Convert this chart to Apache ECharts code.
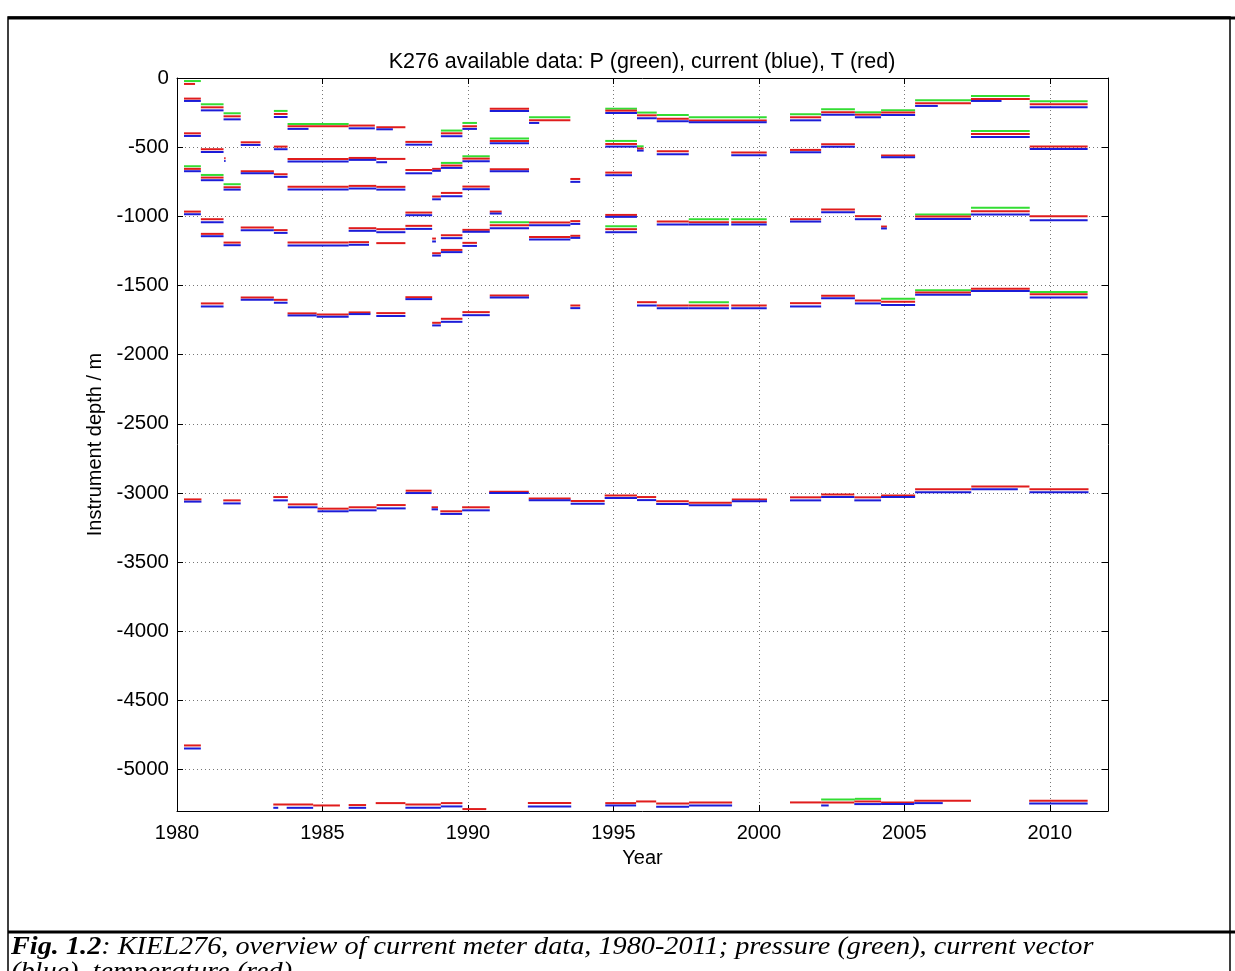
<!DOCTYPE html>
<html><head><meta charset="utf-8">
<script src="https://cdn.jsdelivr.net/npm/echarts@6/dist/echarts.min.js"></script>
<style>html,body{margin:0;padding:0;background:#fff;}#c{width:1235px;height:971px;}</style>
</head><body><div id="c"></div>
<script>
// Axis ticks
const xTicks = [1980, 1985, 1990, 1995, 2000, 2005, 2010];
const yTicks = [0, -500, -1000, -1500, -2000, -2500, -3000, -3500, -4000, -4500, -5000];

// Segments: [startYear, endYear, depth (m)]
const greenSegs = [
  [1980.24,1980.82,-22],[1980.24,1980.82,-638],
  [1980.82,1981.60,-190],[1980.82,1981.60,-701],
  [1981.60,1982.19,-255],[1981.60,1982.19,-768],
  [1983.33,1983.80,-238],
  [1983.80,1985.90,-332],
  [1989.07,1989.81,-380],[1989.07,1989.81,-614],
  [1989.81,1990.31,-325],[1989.81,1990.75,-566],
  [1990.75,1992.10,-438],[1990.75,1992.10,-1043],
  [1992.10,1993.52,-284],
  [1994.72,1995.81,-222],[1994.72,1995.81,-455],[1994.72,1995.81,-1072],
  [1995.81,1996.49,-250],[1995.81,1996.04,-494],
  [1996.49,1997.59,-267],
  [1997.59,2000.27,-284],[1997.59,1998.97,-1021],[1999.05,2000.27,-1021],[1997.59,1998.97,-1621],
  [2001.07,2002.14,-262],
  [2002.14,2003.30,-226],[2002.14,2003.30,-5216],
  [2003.30,2004.20,-248],[2003.30,2004.20,-5212],
  [2004.20,2005.37,-234],[2004.20,2005.37,-1597],
  [2005.37,2007.29,-161],[2005.37,2007.29,-987],[2005.37,2007.29,-1534],
  [2007.29,2009.31,-130],[2007.29,2009.31,-383],[2007.29,2009.31,-939],
  [2009.31,2011.30,-169],[2009.31,2011.30,-1548]
];
const redSegs = [
  [1980.24,1980.62,-43],[1980.24,1980.82,-149],[1980.24,1980.82,-400],[1980.24,1980.82,-657],
  [1980.24,1980.82,-966],[1980.24,1980.84,-3047],[1980.24,1980.82,-4826],
  [1980.82,1981.60,-212],[1980.82,1981.60,-515],[1980.82,1981.60,-720],[1980.82,1981.60,-1021],
  [1980.82,1981.60,-1127],[1980.82,1981.60,-1630],
  [1981.60,1982.19,-277],[1981.60,1982.19,-790],[1981.60,1982.19,-1190],[1981.62,1981.67,-580],
  [1981.59,1982.19,-3054],
  [1982.19,1982.87,-465],[1982.19,1983.33,-674],[1982.19,1983.33,-1081],[1982.19,1983.33,-1587],
  [1983.33,1983.80,-260],[1983.33,1983.80,-496],[1983.33,1983.80,-696],[1983.33,1983.80,-1100],
  [1983.33,1983.80,-1604],[1983.31,1983.81,-3030],
  [1983.80,1985.90,-349],[1983.80,1985.90,-585],[1983.80,1985.90,-787],[1983.80,1985.90,-1190],
  [1983.80,1984.80,-1702],[1984.80,1985.90,-1710],[1983.81,1984.83,-3083],[1984.83,1985.90,-3114],
  [1983.31,1984.68,-5253],[1984.68,1985.60,-5260],
  [1985.90,1986.80,-344],[1985.90,1986.85,-578],[1985.90,1986.85,-780],[1985.90,1986.85,-1086],
  [1985.90,1986.60,-1187],[1985.90,1986.65,-1695],[1985.90,1986.86,-3104],[1985.90,1986.50,-5257],
  [1986.85,1987.85,-356],[1986.85,1987.85,-585],[1986.85,1987.85,-787],[1986.85,1987.85,-1093],
  [1986.85,1987.85,-1194],[1986.85,1987.85,-1700],[1986.86,1987.86,-3088],[1986.83,1987.85,-5243],
  [1987.85,1988.77,-462],[1987.85,1988.77,-665],[1987.85,1988.77,-973],[1987.85,1988.77,-1069],
  [1987.85,1988.77,-1585],[1987.86,1988.75,-2984],[1987.85,1989.07,-5253],
  [1988.77,1989.07,-657],[1988.77,1989.07,-857],[1988.77,1988.90,-1161],[1988.77,1989.07,-1267],
  [1988.77,1989.07,-1770],[1988.75,1988.97,-3104],
  [1989.07,1989.81,-400],[1989.07,1989.81,-633],[1989.07,1989.81,-831],[1989.07,1989.81,-1137],
  [1989.07,1989.81,-1243],[1989.07,1989.81,-1741],[1989.05,1989.80,-3133],[1989.07,1989.81,-5243],
  [1989.81,1990.31,-349],[1989.81,1990.75,-583],[1989.81,1990.75,-785],[1989.81,1990.75,-1098],
  [1989.81,1990.31,-1192],[1989.81,1990.75,-1693],[1989.80,1990.75,-3104],[1989.81,1990.63,-5286],
  [1990.75,1992.10,-222],[1990.75,1992.10,-455],[1990.75,1992.10,-660],[1990.75,1991.16,-966],
  [1990.75,1992.10,-1064],[1990.75,1992.10,-1572],[1990.73,1992.09,-2991],
  [1992.10,1993.52,-306],[1992.10,1993.52,-1045],[1992.10,1993.52,-1149],[1992.09,1993.53,-3040],
  [1992.06,1993.55,-5243],
  [1993.52,1993.86,-730],[1993.52,1993.86,-1035],[1993.52,1993.86,-1141],[1993.52,1993.86,-1645],
  [1993.53,1994.70,-3059],
  [1994.72,1995.81,-236],[1994.72,1995.81,-477],[1994.72,1995.64,-684],[1994.72,1995.81,-990],
  [1994.72,1995.81,-1093],[1994.70,1995.81,-3018],[1994.72,1995.78,-5243],
  [1995.81,1996.49,-270],[1995.81,1996.04,-510],[1995.81,1996.49,-1621],[1995.81,1996.47,-3030],
  [1995.78,1996.47,-5231],
  [1996.49,1997.59,-294],[1996.49,1997.59,-530],[1996.49,1997.59,-1038],[1996.49,1997.59,-1645],
  [1996.47,1997.59,-3061],[1996.47,1997.60,-5245],
  [1997.59,2000.27,-308],[1999.05,2000.27,-539],[1997.59,1998.97,-1043],[1999.05,2000.27,-1043],
  [1997.59,1998.97,-1645],[1999.05,2000.27,-1645],[1997.59,1999.07,-3071],[1999.07,2000.28,-3047],
  [1997.60,1999.08,-5238],
  [2001.07,2002.14,-284],[2001.07,2002.14,-520],[2001.07,2002.14,-1021],[2001.07,2002.14,-1628],
  [2001.07,2002.14,-3032],[2001.07,2002.14,-5238],
  [2002.14,2003.30,-248],[2002.14,2003.30,-479],[2002.14,2003.30,-951],[2002.14,2003.30,-1575],
  [2002.14,2003.28,-3011],[2002.14,2003.28,-5238],
  [2003.30,2004.20,-265],[2003.30,2004.20,-999],[2003.30,2004.20,-1609],[2004.20,2004.40,-1074],
  [2003.28,2004.20,-3032],[2003.28,2004.20,-5231],
  [2004.20,2005.37,-250],[2004.20,2005.37,-561],[2004.20,2005.37,-1618],[2004.20,2005.37,-3018],
  [2004.20,2005.34,-5238],
  [2005.37,2007.29,-183],[2005.37,2007.29,-1002],[2005.37,2007.29,-1551],[2005.37,2007.30,-2974],
  [2005.34,2007.29,-5226],
  [2007.29,2009.31,-152],[2007.29,2009.31,-405],[2007.29,2009.31,-963],[2007.29,2009.31,-1524],
  [2007.30,2009.30,-2953],
  [2009.31,2011.30,-190],[2009.31,2011.30,-496],[2009.31,2011.30,-999],[2009.31,2011.30,-1563],
  [2009.30,2011.33,-2974],[2009.29,2011.30,-5226]
];
const blueSegs = [
  [1980.24,1980.82,-166],[1980.24,1980.82,-419],[1980.24,1980.82,-674],[1980.24,1980.82,-985],
  [1980.24,1980.84,-3063],[1980.24,1980.82,-4848],
  [1980.82,1981.60,-234],[1980.82,1981.60,-535],[1980.82,1981.60,-739],[1980.82,1981.60,-1043],
  [1980.82,1981.60,-1144],[1980.82,1981.60,-1652],
  [1981.60,1982.19,-299],[1981.60,1982.19,-807],[1981.60,1982.19,-1209],[1981.62,1981.67,-600],
  [1981.59,1982.19,-3076],
  [1982.19,1982.87,-484],[1982.19,1983.33,-689],[1982.19,1983.33,-1101],[1982.19,1983.33,-1604],
  [1983.33,1983.80,-282],[1983.33,1983.80,-515],[1983.33,1983.80,-715],[1983.33,1983.80,-1120],
  [1983.33,1983.80,-1625],[1983.31,1983.81,-3054],
  [1983.80,1984.52,-368],[1983.80,1985.90,-604],[1983.80,1985.90,-807],[1983.80,1985.90,-1211],
  [1983.80,1984.80,-1717],[1984.80,1985.90,-1727],[1983.81,1984.83,-3104],[1984.83,1985.90,-3133],
  [1983.31,1983.48,-5277],[1983.77,1984.68,-5277],
  [1985.90,1986.80,-364],[1985.90,1986.85,-592],[1985.90,1986.85,-799],[1985.90,1986.85,-1105],
  [1985.90,1986.60,-1206],[1985.90,1986.65,-1707],[1985.90,1986.86,-3126],[1985.90,1986.50,-5277],
  [1986.85,1987.42,-371],[1986.85,1987.22,-609],[1986.85,1987.85,-807],[1986.85,1987.85,-1115],
  [1986.85,1987.85,-1721],[1986.86,1987.86,-3112],
  [1987.85,1988.77,-482],[1987.85,1988.77,-689],[1987.85,1988.77,-992],[1987.85,1988.77,-1091],
  [1987.85,1988.77,-1599],[1987.86,1988.75,-3001],[1987.85,1989.07,-5277],
  [1988.77,1989.07,-671],[1988.77,1989.07,-877],[1988.77,1988.90,-1182],[1988.77,1989.07,-1284],
  [1988.77,1989.07,-1789],[1988.75,1988.97,-3119],
  [1989.07,1989.81,-421],[1989.07,1989.81,-650],[1989.07,1989.81,-855],[1989.07,1989.81,-1158],
  [1989.07,1989.81,-1259],[1989.07,1989.81,-1763],[1989.05,1989.80,-3152],[1989.07,1989.81,-5267],
  [1989.81,1990.31,-368],[1989.81,1990.75,-602],[1989.81,1990.75,-804],[1989.81,1990.75,-1112],
  [1989.81,1990.31,-1214],[1989.81,1990.75,-1715],[1989.80,1990.75,-3126],
  [1990.75,1992.10,-238],[1990.75,1992.10,-472],[1990.75,1992.10,-674],[1990.75,1991.16,-980],
  [1990.75,1992.10,-1086],[1990.75,1992.10,-1587],[1990.73,1992.09,-3001],
  [1992.10,1992.45,-325],[1992.10,1993.52,-1064],[1992.10,1993.52,-1168],[1992.09,1993.53,-3054],
  [1992.06,1993.55,-5267],
  [1993.52,1993.86,-751],[1993.52,1993.86,-1055],[1993.52,1993.86,-1156],[1993.52,1993.86,-1664],
  [1993.53,1994.70,-3078],
  [1994.72,1995.81,-253],[1994.72,1995.81,-496],[1994.72,1995.64,-703],[1994.72,1995.81,-1004],
  [1994.72,1995.81,-1115],[1994.70,1995.81,-3037],[1994.72,1995.78,-5260],
  [1995.81,1996.49,-291],[1995.81,1996.04,-525],[1995.81,1996.49,-1645],[1995.81,1996.47,-3052],
  [1996.49,1997.59,-313],[1996.49,1997.59,-551],[1996.49,1997.59,-1060],[1996.49,1997.59,-1664],
  [1996.47,1997.59,-3080],[1996.47,1997.60,-5269],
  [1997.59,2000.27,-320],[1999.05,2000.27,-559],[1997.59,1998.97,-1060],[1999.05,2000.27,-1060],
  [1997.59,1998.97,-1664],[1999.05,2000.27,-1664],[1997.59,1999.07,-3090],[1999.07,2000.28,-3061],
  [1997.60,1999.08,-5260],
  [2001.07,2002.14,-306],[2001.07,2002.14,-537],[2001.07,2002.14,-1038],[2001.07,2002.14,-1652],
  [2001.07,2002.14,-3054],
  [2002.14,2003.30,-265],[2002.14,2003.30,-498],[2002.14,2003.30,-970],[2002.14,2003.30,-1592],
  [2002.14,2003.28,-3030],[2002.14,2002.40,-5260],
  [2003.30,2004.20,-284],[2003.30,2004.20,-1021],[2003.30,2004.20,-1630],[2004.20,2004.40,-1088],
  [2003.28,2004.20,-3054],[2003.28,2004.20,-5250],
  [2004.20,2005.37,-267],[2004.20,2005.37,-573],[2004.20,2005.37,-1642],[2004.20,2005.37,-3030],
  [2004.20,2005.34,-5250],
  [2005.37,2006.15,-202],[2005.37,2007.29,-1019],[2005.37,2007.29,-1568],[2005.37,2007.30,-2996],
  [2005.34,2006.32,-5243],
  [2007.29,2008.34,-166],[2007.29,2009.31,-426],[2007.29,2009.31,-987],[2007.29,2009.31,-1541],
  [2007.30,2008.90,-2974],
  [2009.31,2011.30,-212],[2009.31,2011.30,-513],[2009.31,2011.30,-1028],[2009.31,2011.30,-1587],
  [2009.30,2011.33,-2996],[2009.29,2011.30,-5245]
];

const chart = echarts.init(document.getElementById('c'), null, {renderer: 'canvas'});
const FONT = 'Liberation Sans, Arial, sans-serif';
const SERIF = 'Liberation Serif, Times New Roman, serif';

function renderSeg(params, api) {
  const p0 = api.coord([api.value(0), api.value(2)]);
  const p1 = api.coord([api.value(1), api.value(2)]);
  return {
    type: 'line',
    shape: {x1: p0[0], y1: p0[1], x2: p1[0], y2: p1[1]},
    style: {stroke: api.visual('color'), lineWidth: 2}
  };
}
// depth axis drawn downward: plotted value = -depth
function toData(segs) { return segs.map(s => [s[0], s[1], -s[2]]); }
function segSeries(name, segs, color) {
  return {
    name: name, type: 'custom', renderItem: renderSeg, data: toData(segs),
    encode: {x: [0, 1], y: 2}, itemStyle: {color: color}, silent: true, animation: false,
    clip: true
  };
}

const yTickSet = new Set(yTicks.map(v => -v));
const xTickSet = new Set(xTicks);
const gridLine = {show: true, lineStyle: {color: '#777', width: 1, type: [1, 3]}};

const option = {
  animation: false,
  title: {
    text: 'K276 available data: P (green), current (blue), T (red)',
    left: 637, top: 46, textAlign: 'center',
    textStyle: {fontFamily: FONT, fontSize: 21.5, fontWeight: 'normal', color: '#000'}
  },
  grid: {left: 177, top: 78, width: 931, height: 733, show: false},
  xAxis: [{
    type: 'value', min: 1980, max: 2012, interval: 5, position: 'bottom',
    name: 'Year', nameLocation: 'middle', nameGap: 37,
    nameTextStyle: {fontFamily: FONT, fontSize: 20, color: '#000'},
    axisLine: {show: true, onZero: false, lineStyle: {color: '#000', width: 1}},
    axisTick: {show: true, inside: true, length: 6, lineStyle: {color: '#000'}},
    axisLabel: {fontFamily: FONT, fontSize: 20, color: '#000', margin: 12,
      formatter: v => xTickSet.has(v) ? String(v) : ''},
    splitLine: gridLine
  }, {
    type: 'value', min: 1980, max: 2012, interval: 5, position: 'top',
    axisLine: {show: true, onZero: false, lineStyle: {color: '#000', width: 1}},
    axisTick: {show: true, inside: true, length: 6, lineStyle: {color: '#000'}},
    axisLabel: {show: false}, splitLine: {show: false}
  }],
  yAxis: [{
    type: 'value', inverse: true, min: 0, max: 5300, interval: 500, position: 'left',
    name: 'Instrument depth / m', nameLocation: 'middle', nameGap: 68, nameRotate: 90,
    nameTextStyle: {fontFamily: FONT, fontSize: 20, color: '#000'},
    axisLine: {show: true, onZero: false, lineStyle: {color: '#000', width: 1}},
    axisTick: {show: true, inside: true, length: 6, lineStyle: {color: '#000'}},
    axisLabel: {fontFamily: FONT, fontSize: 20.5, color: '#000', margin: 8,
      formatter: v => yTickSet.has(v) ? String(-v) : ''},
    splitLine: gridLine
  }, {
    type: 'value', inverse: true, min: 0, max: 5300, interval: 500, position: 'right',
    axisLine: {show: true, onZero: false, lineStyle: {color: '#000', width: 1}},
    axisTick: {show: true, inside: true, length: 6, lineStyle: {color: '#000'}},
    axisLabel: {show: false}, splitLine: {show: false}
  }],
  series: [
    segSeries('P', greenSegs, '#33dd33'),
    segSeries('T', redSegs, '#e01c1c'),
    segSeries('current', blueSegs, '#1c1cd8')
  ],
  graphic: [
    {type: 'rect', shape: {x: 8, y: 17, width: 1222, height: 990}, style: {fill: 'none', stroke: '#000', lineWidth: 1.5}, silent: true},
    {type: 'line', shape: {x1: 8, y1: 18, x2: 1235, y2: 18}, style: {stroke: '#000', lineWidth: 3}, silent: true},
    {type: 'line', shape: {x1: 8, y1: 932, x2: 1235, y2: 932}, style: {stroke: '#000', lineWidth: 3}, silent: true},
    {type: 'text', x: 11, y: 935, scaleX: 1.13, scaleY: 1, style: {
      text: '{b|Fig. 1.2}{i|: KIEL276, overview of current meter data, 1980-2011; pressure (green), current vector}\n{i|(blue), temperature (red).}',
      rich: {
        b: {fontFamily: SERIF, fontSize: 25, fontStyle: 'italic', fontWeight: 'bold', fill: '#000', lineHeight: 25},
        i: {fontFamily: SERIF, fontSize: 25, fontStyle: 'italic', fill: '#000', lineHeight: 25}
      }
    }, silent: true}
  ]
};
chart.setOption(option);
</script>
</body></html>
